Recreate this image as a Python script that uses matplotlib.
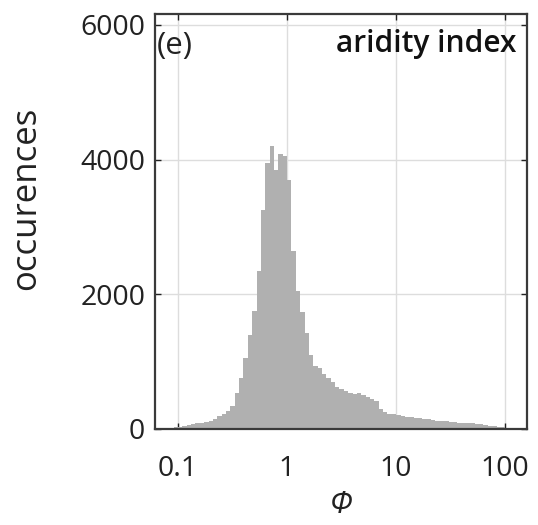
import numpy as np
import matplotlib
matplotlib.use("Agg")
import matplotlib.pyplot as plt
from matplotlib.ticker import FixedLocator, NullLocator

plt.rcParams['font.family'] = ['Open Sans', 'DejaVu Sans']

# log10 bin edges of histogram (width 0.04 decades)
log_edges = np.round(np.arange(-1.20, 2.0801, 0.04), 2)
counts = [5, 8, 12, 18, 25, 32, 45, 55, 70, 85, 95, 108, 125, 150, 185, 220, 270, 340,
          540, 760, 1050, 1400, 1750, 2350, 3250, 3950, 4200, 3850, 4080, 4050, 3700,
          2650, 2050, 1730, 1420, 1100, 940, 900, 820, 760, 690, 630, 590, 560, 530,
          520, 540, 510, 470, 440, 420, 290, 250, 225, 220, 210, 195, 180, 170, 165,
          155, 150, 145, 135, 125, 120, 115, 105, 100, 95, 90, 90, 85, 80, 70, 60, 50,
          45, 35, 25, 15, 8]
x_ticks = [0.1, 1, 10, 100]
x_ticklabels = ['0.1', '1', '10', '100']
y_ticks = [0, 2000, 4000, 6000]

edges = 10 ** log_edges[:len(counts) + 1]

fig = plt.figure(figsize=(5.38, 5.25), dpi=100)
ax = fig.add_axes([0.288, 0.183, 0.692, 0.79])
ax.stairs(counts, edges, fill=True, color='#b0b0b0', linewidth=0, zorder=2)
ax.set_xscale('log')
ax.set_xlim(0.0615, 159)
ax.set_ylim(0, 6160)
ax.xaxis.set_major_locator(FixedLocator(x_ticks))
ax.xaxis.set_minor_locator(NullLocator())
ax.set_xticklabels(x_ticklabels)
ax.set_yticks(y_ticks)
ax.grid(True, color='#dddddd', linewidth=1.0, zorder=0)
ax.set_axisbelow(True)
ax.tick_params(direction='in', length=4, width=1, labelsize=20.5, colors='#222222',
               top=True, right=True)
ax.tick_params(axis='x', pad=19)
ax.tick_params(axis='y', pad=7)
for s in ax.spines.values():
    s.set_linewidth(1.6)
    s.set_color('#3a3a3a')
ax.set_ylabel('occurences', fontsize=25, color='#222222')
ax.yaxis.set_label_coords(-0.30, 0.555)
ax.set_xlabel('Φ', fontsize=22, style='italic', color='#222222', labelpad=5)
ax.annotate('(e)', xy=(0, 1), xycoords='axes fraction', xytext=(1, -12),
            textcoords='offset points', ha='left', va='top', fontsize=22.5, color='#222222')
ax.annotate('aridity index', xy=(1, 1), xycoords='axes fraction', xytext=(-8, -11),
            textcoords='offset points', ha='right', va='top', fontsize=21.5,
            fontweight='semibold', color='#111111')
fig.savefig('out.png', dpi=100)
